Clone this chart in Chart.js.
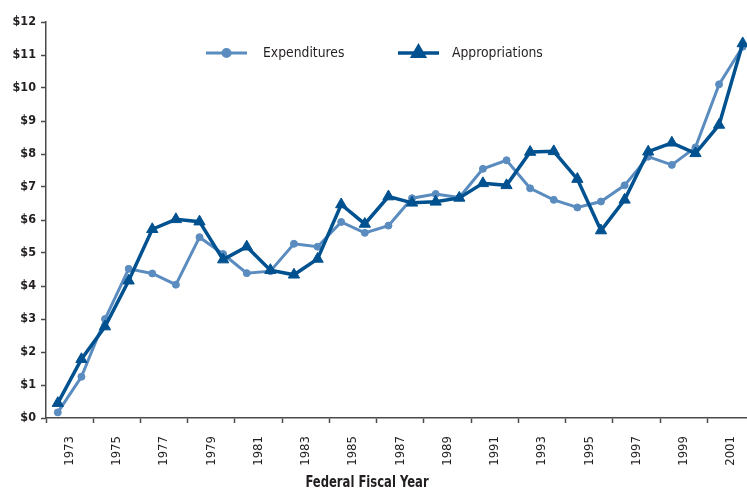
<!DOCTYPE html>
<html>
<head>
<meta charset="utf-8">
<script src="https://cdn.jsdelivr.net/npm/chart.js@4/dist/chart.umd.min.js"></script>
<style>
html,body{margin:0;padding:0;background:#fff;overflow:hidden;}
#wrap{position:relative;width:762px;height:492px;}
</style>
</head>
<body>
<div id="wrap"><canvas id="c" width="762" height="492"></canvas></div>
<script>
const years = ['1973','1974','1975','1976','1977','1978','1979','1980','1981','1982','1983','1984','1985','1986','1987','1988','1989','1990','1991','1992','1993','1994','1995','1996','1997','1998','1999','2000','2001','2002'];
const expenditures = [0.17,1.25,3.0,4.52,4.38,4.04,5.48,4.97,4.39,4.45,5.28,5.19,5.94,5.61,5.83,6.66,6.79,6.68,7.55,7.81,6.96,6.61,6.38,6.56,7.05,7.92,7.67,8.2,10.11,11.25];
const appropriations = [0.45,1.78,2.77,4.16,5.72,6.02,5.95,4.8,5.19,4.48,4.34,4.82,6.47,5.88,6.71,6.52,6.55,6.67,7.11,7.05,8.06,8.08,7.24,5.68,6.61,8.07,8.34,8.02,8.88,11.35];
const yTicks = [0,1,2,3,4,5,6,7,8,9,10,11,12];
const seriesNames = ['Expenditures','Appropriations'];
const xTitle = 'Federal Fiscal Year';

const FONT = "'DejaVu Sans Condensed','Liberation Sans',Arial,sans-serif";
const TEXT = '#231f20';
const AXIS = '#4a4a4a';
const C_EXP = '#5b8cbf';
const C_APP = '#00518f';

function drawNarrowText(ctx, text, x, y, font, sx, align) {
  ctx.save();
  ctx.font = font;
  ctx.textBaseline = 'middle';
  ctx.textAlign = align;
  ctx.translate(x, y);
  ctx.scale(sx, 1);
  ctx.fillText(text, 0, 0);
  ctx.restore();
}

const overlay = {
  id: 'overlay',
  afterDraw(chart) {
    const ctx = chart.ctx;
    ctx.save();
    const items = [
      {name: seriesNames[0], color: C_EXP, lw: 3, style: 'circle', r: 3.5, x0: 206, x1: 247, tx: 263},
      {name: seriesNames[1], color: C_APP, lw: 3.5, style: 'triangle', r: 6.5, x0: 398, x1: 439, tx: 452}
    ];
    const ly = 53;
    items.forEach(it => {
      ctx.strokeStyle = it.color;
      ctx.lineWidth = it.lw;
      ctx.beginPath();
      ctx.moveTo(it.x0, ly);
      ctx.lineTo(it.x1, ly);
      ctx.stroke();
      ctx.fillStyle = it.color;
      Chart.helpers.drawPoint(ctx, {pointStyle: it.style, radius: it.r, borderWidth: 1, rotation: 0}, (it.x0 + it.x1) / 2, ly);
      ctx.fillStyle = TEXT;
      drawNarrowText(ctx, it.name, it.tx, ly, "14.5px " + FONT, 0.95, 'left');
    });
    ctx.fillStyle = TEXT;
    drawNarrowText(ctx, xTitle, 367, 483, "bold 15px " + FONT, 0.86, 'center');
    ctx.restore();
  }
};

new Chart(document.getElementById('c'), {
  type: 'line',
  data: {
    labels: years,
    datasets: [
      {
        label: seriesNames[0],
        data: expenditures,
        borderColor: C_EXP,
        backgroundColor: C_EXP,
        borderWidth: 3,
        pointStyle: 'circle',
        pointRadius: 3.5,
        pointBorderWidth: 1,
        tension: 0,
        order: 2
      },
      {
        label: seriesNames[1],
        data: appropriations,
        borderColor: C_APP,
        backgroundColor: C_APP,
        borderWidth: 3.5,
        pointStyle: 'triangle',
        pointRadius: 6.5,
        pointBorderWidth: 1,
        tension: 0,
        order: 1
      }
    ]
  },
  options: {
    responsive: false,
    animation: false,
    devicePixelRatio: 1,
    layout: {padding: {top: 22, left: 0, right: 0, bottom: 0}},
    plugins: {legend: {display: false}, tooltip: {enabled: false}, title: {display: false}},
    scales: {
      x: {
        type: 'category',
        offset: true,
        border: {display: true, color: AXIS, width: 1.5},
        grid: {
          offset: true,
          drawOnChartArea: false,
          drawTicks: true,
          tickLength: 5,
          tickWidth: 1.5,
          tickColor: (ctx) => (ctx.index % 2 === 0 ? AXIS : 'rgba(0,0,0,0)')
        },
        ticks: {
          autoSkip: false,
          maxRotation: 90,
          minRotation: 90,
          labelOffset: 11.8,
          padding: 13,
          color: TEXT,
          font: {family: FONT, size: 13},
          callback: function(v, i) { return i % 2 === 0 ? years[i] : ''; }
        },
        afterFit: (s) => { s.height = 74; s.paddingRight = 0; s.paddingLeft = 0; }
      },
      y: {
        min: 0,
        max: 12,
        afterBuildTicks: (s) => { s.ticks = yTicks.map(v => ({value: v})); },
        border: {display: true, color: AXIS, width: 1.5},
        grid: {
          drawOnChartArea: false,
          drawTicks: true,
          tickLength: 5,
          tickWidth: 1.5,
          tickColor: AXIS
        },
        ticks: {
          padding: 5,
          color: TEXT,
          font: {family: FONT, size: 12.5, weight: 'bold'},
          callback: (v) => '$' + v
        },
        afterFit: (s) => { s.width = 46; s.paddingTop = 0; s.paddingBottom = 0; }
      }
    }
  },
  plugins: [overlay]
});
</script>
</body>
</html>
